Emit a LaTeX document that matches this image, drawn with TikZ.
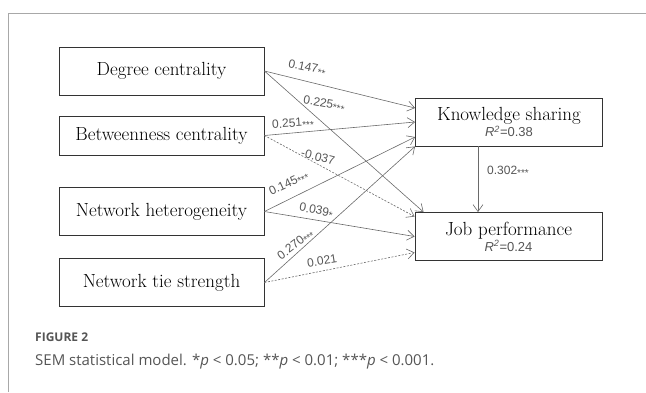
\documentclass[tikz,border=0pt]{standalone}
\usepackage{fontspec}
\setsansfont{Liberation Sans}
\newfontfamily\capfont{Open Sans}
\usetikzlibrary{arrows.meta}
\definecolor{linegray}{HTML}{6A6A6A}
\definecolor{textgray}{HTML}{555555}
\definecolor{framegray}{HTML}{A8A8A8}
\newcommand{\stars}[1]{\raisebox{-0.35ex}{\fontsize{10}{10}\selectfont #1}}
\newcommand{\rsq}[1]{{\sffamily\fontsize{13}{14}\selectfont\color{textgray}\textit{R}\textsuperscript{\itshape 2}=#1}}

\begin{document}
\begin{tikzpicture}[x=1pt, y=-1pt,
    var/.style={draw=black!80, line width=0.9pt, rectangle, minimum width=205pt, minimum height=48pt, inner sep=0pt, align=center, font=\fontsize{19}{19}\selectfont},
    dv/.style={var, minimum width=187pt},
    path/.style={draw=linegray, line width=0.6pt, -{Straight Barb[length=7pt, width=10pt]}},
    ns/.style={path, dash pattern=on 2pt off 1.5pt},
    coef/.style={font=\sffamily\fontsize{12}{13}\selectfont, text=textgray, inner sep=1pt}]

    \useasboundingbox (0,0) rectangle (646,392);

    % Frame
    \draw[framegray, line width=0.8pt] (8,392) -- (8,13) -- (646,13);

    % Independent variables
    \node[var] (degree) at (161.5,71) {Degree centrality};
    \node[var, minimum height=39pt] (between) at (161.5,135.5) {Betweenness centrality};
    \node[var] (hetero) at (161.5,211.5) {Network heterogeneity};
    \node[var] (tie) at (161.5,282.5) {Network tie strength};

    % Mediator and outcome
    \node[dv] (share) at (509,122) {Knowledge sharing\\[-3pt]\rsq{0.38}};
    \node[dv] (perf) at (508.5,236.5) {Job performance\\[-3pt]\rsq{0.24}};

    % Paths to knowledge sharing
    \draw[path] (degree.east) -- ([yshift=14pt]share.west);
    \draw[path] (between.east) -- (share.west);
    \draw[path] (hetero.east) -- ([yshift=-15pt]share.west);
    \draw[path] (tie.east) -- (share.south west);

    % Paths to job performance
    \draw[path] (degree.east) -- ([xshift=9pt]perf.north west);
    \draw[ns] (between.east) -- ([yshift=20pt]perf.west);
    \draw[path] (hetero.east) -- (perf.west);
    \draw[ns] (tie.east) -- ([yshift=-16pt]perf.west);
    \draw[path] ([xshift=-31pt]share.south) -- ([xshift=-31pt]share.south |- perf.north);

    % Coefficients
    \node[coef, rotate=-12] (c1) at (307,68) {0.147\stars{**}};
    \node[coef, rotate=-10] (c2) at (324,104) {0.225\stars{***}};
    \node[coef, rotate=4] (c3) at (293,124) {0.251\stars{***}};
    \node[coef, rotate=-14] (c4) at (318,157) {-0.037};
    \node[coef, rotate=25] (c5) at (289,184) {0.145\stars{***}};
    \node[coef, rotate=-11] (c6) at (316,211) {0.039\stars{*}};
    \node[coef, rotate=37] (c7) at (296,245) {0.270\stars{***}};
    \node[coef, rotate=9] (c8) at (322,261) {0.021};
    \node[coef] (c9) at (508,171) {0.302\stars{***}};

    % Caption
    \node[anchor=west, text=textgray, font=\capfont\bfseries\fontsize{12}{14}\selectfont, inner sep=0pt] (fig) at (35,337) {FIGURE 2};
    \node[anchor=west, text=textgray, font=\capfont\fontsize{15}{17}\selectfont, inner sep=0pt] (cap) at (35,362) {SEM statistical model. *\textit{p} < 0.05; **\textit{p} < 0.01; ***\textit{p} < 0.001.};
\end{tikzpicture}
\end{document}
